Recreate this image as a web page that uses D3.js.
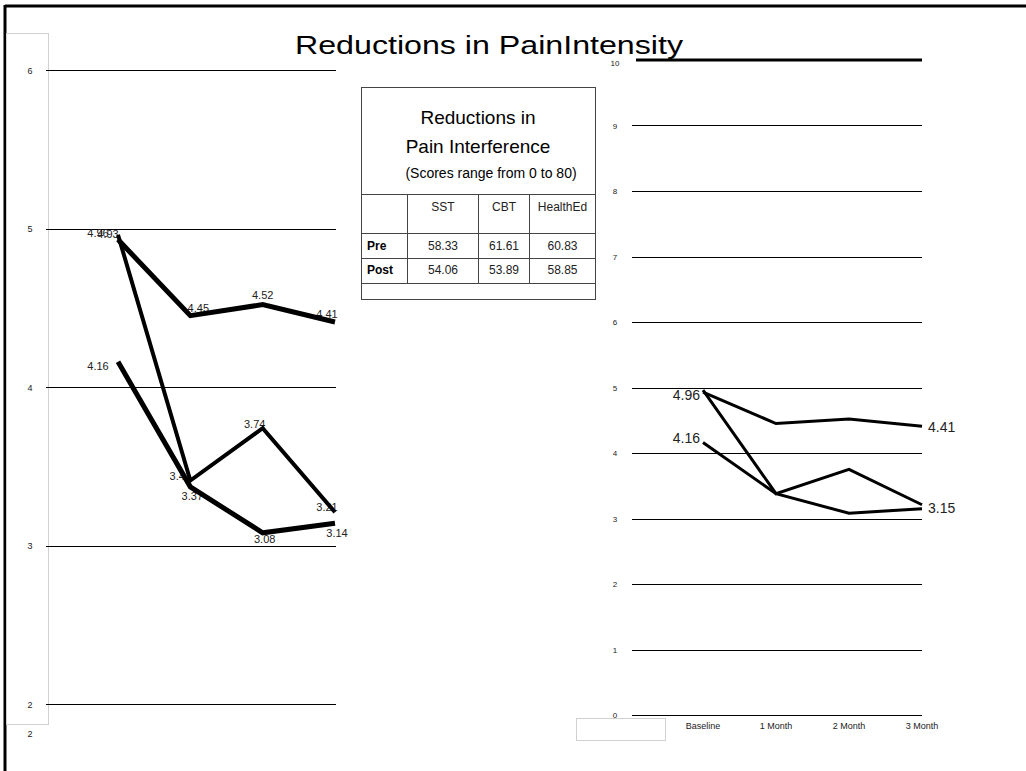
<!DOCTYPE html>
<html>
<head>
<meta charset="utf-8">
<script src="https://cdn.jsdelivr.net/npm/d3@7"></script>
<style>
  html, body { margin: 0; padding: 0; background: #fff; }
  svg { display: block; font-family: "Liberation Sans", Arial, sans-serif; }
</style>
</head>
<body>
<svg id="chart" width="1026" height="771"></svg>
<script>
// Time points
const timepoints = ["Baseline", "1 Month", "2 Month", "3 Month"];

// Pain intensity, left panel (three treatment groups)
const leftSeriesA = [4.93, 4.45, 4.52, 4.41];
const leftSeriesB = [4.96, 3.41, 3.74, 3.21];
const leftSeriesC = [4.16, 3.37, 3.08, 3.14];
const leftTicks = [2, 3, 4, 5, 6];

// Pain intensity, right panel
const rightSeriesA = [4.93, 4.45, 4.52, 4.41];
const rightSeriesB = [4.96, 3.38, 3.75, 3.21];
const rightSeriesC = [4.16, 3.38, 3.08, 3.15];
const rightTicks = [0, 1, 2, 3, 4, 5, 6, 7, 8, 9, 10];

// Pain interference table
const tableGroups = ["SST", "CBT", "HealthEd"];
const tableRowNames = ["Pre", "Post"];
const preScores = ["58.33", "61.61", "60.83"];
const postScores = ["54.06", "53.89", "58.85"];

const svg = d3.select("#chart");
const crisp = v => Math.round(v) + 0.5;

// page frame
svg.append("line").attr("x1", 5).attr("x2", 1026).attr("y1", 6).attr("y2", 6)
  .attr("stroke", "#000").attr("stroke-width", 3);
svg.append("line").attr("x1", 5).attr("x2", 5).attr("y1", 5).attr("y2", 771)
  .attr("stroke", "#000").attr("stroke-width", 3);

// main title
svg.append("text").attr("x", 295).attr("y", 54)
  .attr("font-size", 25).attr("textLength", 388).attr("lengthAdjust", "spacingAndGlyphs")
  .text("Reductions in PainIntensity");

// ---------- left panel ----------
const lx = d3.scalePoint().domain(timepoints).range([118, 335]);
const ly = d3.scaleLinear().domain([2, 6]).range([704, 70]);

svg.append("rect").attr("x", 6.5).attr("y", 33.5).attr("width", 42).attr("height", 691)
  .attr("fill", "none").attr("stroke", "#d0d0d0").attr("stroke-width", 1);

const lgrid = svg.append("g");
lgrid.selectAll("line").data(leftTicks).join("line")
  .attr("x1", 46).attr("x2", 336)
  .attr("y1", d => crisp(ly(d))).attr("y2", d => crisp(ly(d)))
  .attr("stroke", "#000").attr("stroke-width", 1);
lgrid.selectAll("text").data(leftTicks).join("text")
  .attr("x", 30).attr("y", d => ly(d) + 3.5)
  .attr("font-size", 9).attr("text-anchor", "middle").attr("fill", "#222")
  .text(d => d);
svg.append("text").attr("x", 30).attr("y", 737).attr("font-size", 9)
  .attr("text-anchor", "middle").attr("fill", "#222").text(leftTicks[0]);

// point labels sit underneath the lines
const leftLabelOffsets = [
  [[-10, -2], [8, -4], [0, -6], [-8, -4]],
  [[-20, 2], [-10, -1], [-8, 0], [-8, -1]],
  [[-20, 8], [2, 13], [2, 10], [2, 14]]
];
const leftLabels = [];
[leftSeriesA, leftSeriesB, leftSeriesC].forEach((s, si) => {
  s.forEach((v, i) => leftLabels.push({
    x: lx(timepoints[i]) + leftLabelOffsets[si][i][0],
    y: ly(v) + leftLabelOffsets[si][i][1],
    t: d3.format(".2~f")(v)
  }));
});
svg.append("g").selectAll("text").data(leftLabels).join("text")
  .attr("x", d => d.x).attr("y", d => d.y)
  .attr("font-size", 11).attr("text-anchor", "middle").attr("fill", "#222")
  .text(d => d.t);

const lline = d3.line().x((d, i) => lx(timepoints[i])).y(d => ly(d));
const leftSeries = [
  { vals: leftSeriesA, w: 5 },
  { vals: leftSeriesB, w: 4 },
  { vals: leftSeriesC, w: 5 }
];
svg.append("g").selectAll("path").data(leftSeries).join("path")
  .attr("d", d => lline(d.vals))
  .attr("fill", "none").attr("stroke", "#000")
  .attr("stroke-width", d => d.w).attr("stroke-linejoin", "miter");

// ---------- table ----------
const tb = svg.append("g");
tb.append("rect").attr("x", 361.5).attr("y", 87.5).attr("width", 234).attr("height", 212)
  .attr("fill", "#fff").attr("stroke", "#444").attr("stroke-width", 1);
tb.append("text").attr("x", 478).attr("y", 124).attr("font-size", 19)
  .attr("text-anchor", "middle").text("Reductions in");
tb.append("text").attr("x", 478).attr("y", 153).attr("font-size", 19)
  .attr("text-anchor", "middle").text("Pain Interference");
tb.append("text").attr("x", 491).attr("y", 178).attr("font-size", 14)
  .attr("text-anchor", "middle").text("(Scores range from 0 to 80)");

const colEdges = [361.5, 407.5, 478.5, 529.5, 595.5];
const rowEdges = [194.5, 233.5, 258.5, 283.5];
rowEdges.forEach(y => tb.append("line").attr("x1", 361.5).attr("x2", 595.5)
  .attr("y1", y).attr("y2", y).attr("stroke", "#444"));
colEdges.slice(1, 4).forEach(x => tb.append("line").attr("x1", x).attr("x2", x)
  .attr("y1", 194.5).attr("y2", 283.5).attr("stroke", "#444"));

const colCenters = d3.range(3).map(i => (colEdges[i + 1] + colEdges[i + 2]) / 2);
tb.selectAll("text.hdr").data(tableGroups).join("text").attr("class", "hdr")
  .attr("x", (d, i) => colCenters[i]).attr("y", 211)
  .attr("font-size", 12).attr("text-anchor", "middle").attr("fill", "#222").text(d => d);
[preScores, postScores].forEach((row, ri) => {
  const y = [250, 274][ri];
  tb.append("text").attr("x", 367).attr("y", y).attr("font-size", 12)
    .attr("font-weight", "bold").text(tableRowNames[ri]);
  tb.selectAll("text.r" + ri).data(row).join("text").attr("class", "r" + ri)
    .attr("x", (d, i) => colCenters[i]).attr("y", y)
    .attr("font-size", 12).attr("text-anchor", "middle").attr("fill", "#222").text(d => d);
});

// ---------- right panel ----------
const rx = d3.scalePoint().domain(timepoints).range([703, 922]);
const ry = d3.scaleLinear().domain([0, 10]).range([715, 60]);

const rgrid = svg.append("g");
rgrid.selectAll("line").data(rightTicks).join("line")
  .attr("x1", d => d === 10 ? 636 : 632).attr("x2", 922)
  .attr("y1", d => d === 10 ? ry(d) : crisp(ry(d)))
  .attr("y2", d => d === 10 ? ry(d) : crisp(ry(d)))
  .attr("stroke", "#000").attr("stroke-width", d => d === 10 ? 3 : 1);
rgrid.selectAll("text").data(rightTicks).join("text")
  .attr("x", 615).attr("y", d => ry(d) + (d === 10 ? 6 : 3))
  .attr("font-size", 8).attr("text-anchor", "middle").attr("fill", "#222")
  .text(d => d);

svg.append("rect").attr("x", 576.5).attr("y", 718.5).attr("width", 89).attr("height", 22)
  .attr("fill", "none").attr("stroke", "#d0d0d0");

svg.append("g").selectAll("text").data(timepoints).join("text")
  .attr("x", d => rx(d)).attr("y", 729)
  .attr("font-size", 9).attr("text-anchor", "middle").attr("fill", "#222")
  .text(d => d);

const rline = d3.line().x((d, i) => rx(timepoints[i])).y(d => ry(d));
svg.append("g").selectAll("path").data([rightSeriesA, rightSeriesB, rightSeriesC]).join("path")
  .attr("d", d => rline(d))
  .attr("fill", "none").attr("stroke", "#000").attr("stroke-width", 3);

const rLabels = [
  { v: rightSeriesB[0], i: 0, dx: -3, dy: 10, anchor: "end" },
  { v: rightSeriesC[0], i: 0, dx: -3, dy: 0, anchor: "end" },
  { v: rightSeriesA[3], i: 3, dx: 6, dy: 6, anchor: "start" },
  { v: rightSeriesC[3], i: 3, dx: 6, dy: 4, anchor: "start" }
];
svg.append("g").selectAll("text").data(rLabels).join("text")
  .attr("x", d => rx(timepoints[d.i]) + d.dx).attr("y", d => ry(d.v) + d.dy)
  .attr("font-size", 14).attr("text-anchor", d => d.anchor).attr("fill", "#222")
  .text(d => d3.format(".2f")(d.v));
</script>
</body>
</html>
